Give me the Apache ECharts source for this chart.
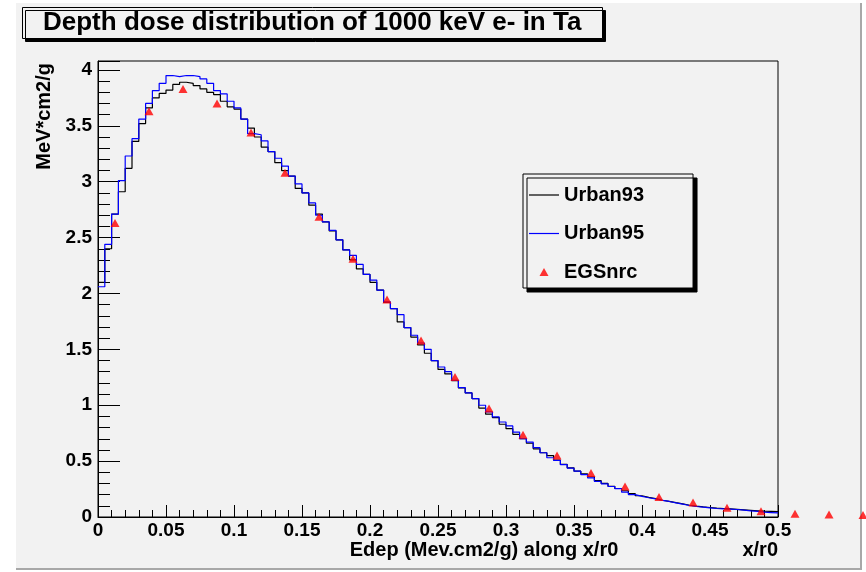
<!DOCTYPE html>
<html>
<head>
<meta charset="utf-8">
<script src="https://cdn.jsdelivr.net/npm/echarts@6/dist/echarts.min.js"></script>
<style>html,body{margin:0;padding:0;background:#fff;}#c{width:866px;height:572px;}</style>
</head>
<body>
<div id="c"></div>
<script>
// ---- data ----
const binWidth = 0.005; // histogram bin width along x/r0
const urban93 = [2.10,2.40,2.71,2.91,3.12,3.36,3.52,3.66,3.75,3.79,
  3.82,3.87,3.89,3.88,3.86,3.83,3.80,3.78,3.72,3.67,
  3.65,3.56,3.48,3.40,3.31,3.27,3.17,3.10,3.05,2.94,
  2.90,2.79,2.71,2.64,2.56,2.48,2.39,2.30,2.22,2.17,
  2.10,2.03,1.92,1.865,1.745,1.695,1.61,1.54,1.465,1.40,
  1.32,1.28,1.22,1.155,1.11,1.06,0.975,0.92,0.89,0.83,
  0.79,0.74,0.70,0.66,0.61,0.575,0.55,0.51,0.47,0.44,
  0.41,0.385,0.36,0.325,0.30,0.275,0.255,0.235,0.21,0.19,
  0.175,0.165,0.15,0.14,0.128,0.118,0.105,0.097,0.09,0.085,
  0.08,0.076,0.072,0.068,0.064,0.06,0.056,0.052,0.05,0.048];
const urban95 = [2.06,2.44,2.71,3.01,3.23,3.385,3.56,3.70,3.815,3.88,
  3.95,3.94,3.95,3.95,3.94,3.92,3.88,3.815,3.785,3.72,
  3.66,3.56,3.43,3.42,3.365,3.27,3.21,3.14,3.05,2.98,
  2.90,2.81,2.70,2.64,2.565,2.48,2.39,2.34,2.26,2.17,
  2.12,2.03,1.925,1.865,1.81,1.695,1.626,1.557,1.50,1.40,
  1.342,1.30,1.223,1.158,1.11,1.06,1.00,0.94,0.895,0.85,
  0.815,0.76,0.70,0.67,0.62,0.575,0.53,0.506,0.468,0.437,
  0.41,0.38,0.35,0.318,0.297,0.273,0.253,0.222,0.20,0.184,
  0.172,0.163,0.148,0.139,0.127,0.115,0.103,0.094,0.088,0.082,
  0.076,0.073,0.07,0.067,0.061,0.055,0.05,0.043,0.04,0.037];
const egsX = [0.0125,0.0375,0.0625,0.0875,0.1125,0.1375,0.1625,0.1875,0.2125,0.2375,
  0.2625,0.2875,0.3125,0.3375,0.3625,0.3875,0.4125,0.4375,0.4625,0.4875,
  0.5125,0.5375,0.5625];
const egsY = [2.63,3.63,3.83,3.70,3.44,3.08,2.686,2.31,1.946,1.58,
  1.253,0.97,0.736,0.551,0.393,0.273,0.178,0.13,0.082,0.052,
  0.03,0.022,0.017];
const seriesNames = ['Urban93','Urban95','EGSnrc'];
const titleText = 'Depth dose distribution of 1000 keV e- in Ta';
const xTitle = 'Edep (Mev.cm2/g) along x/r0';
const xUnit = 'x/r0';
const yTitle = 'MeV*cm2/g';

// ---- build ----
function histPoints(vals){
  const pts = vals.map((v,i)=>[+(i*binWidth).toFixed(4), v]);
  pts.push([+(vals.length*binWidth).toFixed(4), vals[vals.length-1]]);
  return pts;
}
const FF = '"Liberation Sans", Arial, Helvetica, sans-serif';
const LINE_ICON = 'path://M0,0H30V1.2H0Z';
const TRI_ICON = 'path://M0,8L4.5,0L9,8Z';
const chart = echarts.init(document.getElementById('c'), null, {renderer:'canvas'});
chart.setOption({
  backgroundColor: '#f2f2f2',
  animation: false,
  textStyle: {fontFamily: FF},
  title: {
    text: titleText, left: 22, top: 7, padding: [3, 21, 3, 21],
    backgroundColor: '#f2f2f2', borderColor: '#000', borderWidth: 1,
    shadowColor: '#000', shadowBlur: 0, shadowOffsetX: 3, shadowOffsetY: 3,
    textStyle: {fontSize: 26, fontWeight: 'bold', color: '#000', fontFamily: FF, lineHeight: 26}
  },
  legend: {
    orient: 'vertical', left: 523, top: 174,
    padding: [11, 49, 6, 6], itemGap: 18.5, itemWidth: 30, itemHeight: 8,
    symbolKeepAspect: true,
    backgroundColor: '#f2f2f2', borderColor: '#000', borderWidth: 1,
    shadowColor: '#000', shadowBlur: 0, shadowOffsetX: 4, shadowOffsetY: 4,
    textStyle: {fontSize: 20, fontWeight: 'bold', color: '#000', fontFamily: FF, lineHeight: 20},
    data: [{name: seriesNames[0], icon: LINE_ICON}, {name: seriesNames[1], icon: LINE_ICON}, {name: seriesNames[2], icon: TRI_ICON}]
  },
  grid: {left: 98, top: 61, width: 680, height: 456, show: true, borderColor: '#000', borderWidth: 1, backgroundColor: 'transparent'},
  xAxis: {
    type: 'value', min: 0, max: 0.5, interval: 0.05,
    axisLine: {show: true, onZero: false, lineStyle: {color: '#000', width: 1}},
    axisTick: {show: true, inside: true, length: 12, lineStyle: {color: '#000'}},
    minorTick: {show: true, splitNumber: 5, length: 7, lineStyle: {color: '#000'}},
    splitLine: {show: false},
    axisLabel: {color: '#000', fontSize: 19, fontWeight: 'bold', fontFamily: FF, margin: 4}
  },
  yAxis: {
    type: 'value', min: 0, max: 4.08, interval: 0.5,
    axisLine: {show: true, onZero: false, lineStyle: {color: '#000', width: 1}},
    axisTick: {show: true, inside: true, length: 22, lineStyle: {color: '#000'}},
    minorTick: {show: true, splitNumber: 5, length: 12, lineStyle: {color: '#000'}},
    splitLine: {show: false},
    axisLabel: {color: '#000', fontSize: 19, fontWeight: 'bold', fontFamily: FF, margin: 6,
      formatter: v => (Math.abs(v*2 - Math.round(v*2)) < 1e-6 ? String(v) : '')}
  },
  graphic: [
    {type:'rect', shape:{x:0,y:0,width:16,height:572}, style:{fill:'#fff'}, silent:true},
    {type:'rect', shape:{x:0,y:0,width:866,height:3}, style:{fill:'#fff'}, silent:true},
    {type:'rect', shape:{x:862,y:0,width:4,height:572}, style:{fill:'#fff'}, silent:true},
    {type:'rect', shape:{x:0,y:570,width:866,height:2}, style:{fill:'#fff'}, silent:true},
    {type:'line', shape:{x1:861,y1:3,x2:861,y2:570}, style:{stroke:'#a8a8a8', lineWidth:2}, silent:true},
    {type:'line', shape:{x1:16,y1:569,x2:862,y2:569}, style:{stroke:'#a8a8a8', lineWidth:2}, silent:true},
    {type:'text', x: 484, y: 550, style:{text: xTitle, font: 'bold 20px ' + FF, fill:'#000', align:'center', verticalAlign:'middle'}},
    {type:'text', x: 778, y: 550, style:{text: xUnit, font: 'bold 20px ' + FF, fill:'#000', align:'right', verticalAlign:'middle'}},
    {type:'text', x: 44, y: 63, rotation: Math.PI/2, style:{text: yTitle, font: 'bold 20px ' + FF, fill:'#000', align:'right', verticalAlign:'middle'}}
  ],
  series: [
    {name: seriesNames[0], type:'line', step:'end', data: histPoints(urban93), symbol:'none',
      lineStyle:{color:'#000', width:1.2}, itemStyle:{color:'#000'}, z:2},
    {name: seriesNames[1], type:'line', step:'end', data: histPoints(urban95), symbol:'none',
      lineStyle:{color:'#0000ff', width:1.2}, itemStyle:{color:'#0000ff'}, z:3},
    {name: seriesNames[2], type:'scatter', data: egsX.map((x,i)=>[x, egsY[i]]), symbol:'triangle',
      symbolSize:[9,8], itemStyle:{color:'#ff0000'}, clip:false, z:4}
  ]
});
</script>
</body>
</html>
